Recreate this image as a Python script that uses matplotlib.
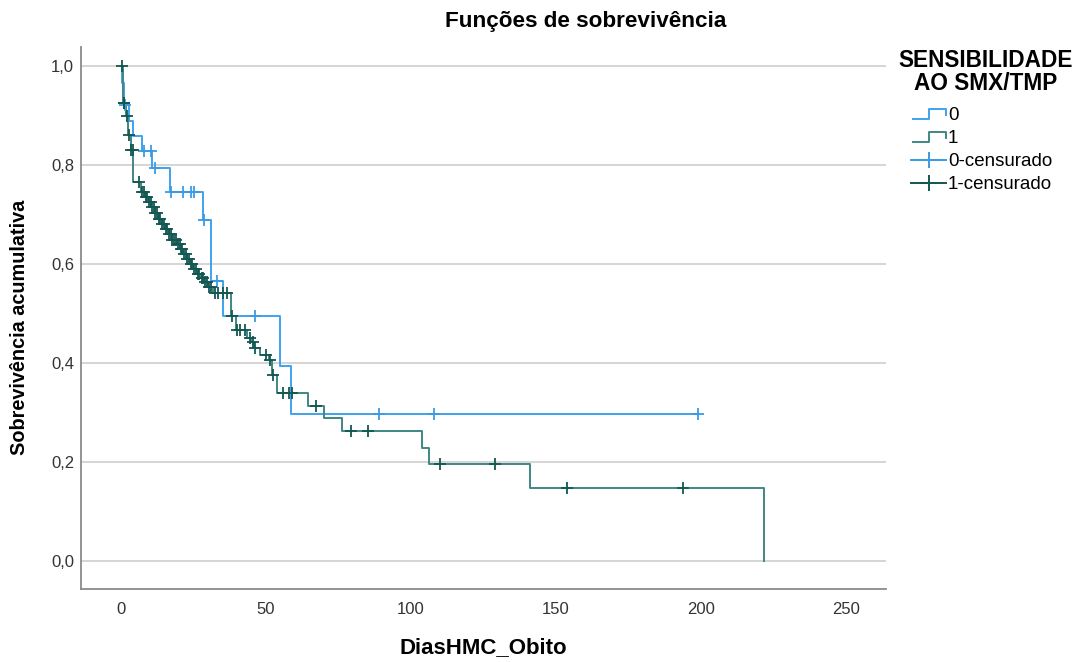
import numpy as np
import matplotlib
matplotlib.use("Agg")
import matplotlib.pyplot as plt
from matplotlib.lines import Line2D
from matplotlib.legend_handler import HandlerBase

plt.rcParams['font.family'] = ['Liberation Sans', 'DejaVu Sans']

# ---------------- data ----------------
title = "Funções de sobrevivência"
x_label = "DiasHMC_Obito"
y_label = "Sobrevivência acumulativa"
legend_title = "SENSIBILIDADE\nAO SMX/TMP"
labels = ["0", "1", "0-censurado", "1-censurado"]

x_ticks = [0, 50, 100, 150, 200, 250]
y_ticks = [0.0, 0.2, 0.4, 0.6, 0.8, 1.0]
y_tick_labels = ["0,0", "0,2", "0,4", "0,6", "0,8", "1,0"]

# group 0 step function (time of change, survival after change)
g0_t = [0, 0.5, 0.9, 2.6, 4.1, 7.1, 10.8, 17.0, 28.2, 30.9, 35.3, 55.0, 58.8, 199.0]
g0_s = [1.0, 0.965, 0.92, 0.888, 0.859, 0.827, 0.794, 0.746, 0.689, 0.566, 0.494, 0.394, 0.296, 0.296]
g0_cens = [1.3, 7.8, 10.4, 11.7, 17.1, 21.3, 24.0, 25.2, 28.6, 33.1, 46.2, 89.0, 108.0, 199.0]

# group 1 step function
g1_t = [0, 0.7, 1.6, 2.3, 3.4, 4.3, 7.0, 8.3, 9.5, 10.5, 11.6, 12.8, 14.0, 15.2, 16.4,
        17.5, 19.2, 20.4, 21.5, 22.7, 23.8, 25.0, 26.3, 27.5, 28.5, 30.0, 31.6, 37.8,
        38.1, 39.6, 43.5, 45.0, 45.9, 48.0, 51.0, 52.0, 53.7, 64.5, 70.0, 76.1, 104.0,
        106.2, 141.0, 221.8]
g1_s = [1.0, 0.925, 0.898, 0.861, 0.830, 0.766, 0.746, 0.735, 0.725, 0.714, 0.703,
        0.691, 0.680, 0.670, 0.660, 0.649, 0.641, 0.630, 0.619, 0.609, 0.599, 0.589,
        0.580, 0.571, 0.564, 0.553, 0.541, 0.527, 0.494, 0.466, 0.450, 0.443, 0.430,
        0.416, 0.406, 0.376, 0.339, 0.313, 0.288, 0.263, 0.228, 0.196, 0.147, 0.0]
g1_cens = [0.2, 0.9, 1.2, 1.9, 2.6, 3.6, 4.0, 6.2, 7.3, 7.8, 8.5, 9.0, 9.7, 10.2, 10.8,
           11.3, 11.9, 12.4, 13.0, 13.6, 14.2, 14.8, 15.4, 16.0, 16.6, 17.1, 17.7, 18.3,
           19.0, 19.6, 20.2, 20.7, 21.2, 21.8, 22.3, 22.9, 23.5, 24.0, 24.6, 25.2, 25.8,
           26.5, 27.0, 27.8, 28.3, 29.0, 29.6, 30.5, 31.2, 32.4, 33.5, 35.3, 36.4, 38.4,
           39.9, 41.0, 42.8, 44.5, 45.6, 46.2, 50.2, 51.4, 52.5, 56.0, 58.0, 58.9, 67.2,
           79.2, 85.1, 110.0, 129.0, 154.0, 193.9]

# ---------------- style ----------------
c0_line = '#3fa2ee'
c0_cens = '#3a9be4'
c1_line = '#3f8884'
c1_cens = '#135752'


def surv_at(tt, ss, times):
    tt = np.asarray(tt)
    ss = np.asarray(ss)
    idx = np.searchsorted(tt, np.asarray(times), side='right') - 1
    return ss[np.clip(idx, 0, len(ss) - 1)]


class HandlerStep(HandlerBase):
    def create_artists(self, legend, orig_handle, xdescent, ydescent, width, height,
                       fontsize, trans):
        x0 = -xdescent
        y0 = -ydescent
        xs = [x0 + 0.05 * width, x0 + 0.5 * width, x0 + 0.5 * width, x0 + width, x0 + width]
        ys = [y0 + 0.1 * height, y0 + 0.1 * height, y0 + 0.85 * height, y0 + 0.85 * height,
              y0 + 0.45 * height]
        ln = Line2D(xs, ys, color=orig_handle.get_color(), lw=orig_handle.get_linewidth(),
                    transform=trans)
        return [ln]


fig = plt.figure(figsize=(10.8, 6.62), dpi=100)
ax = fig.add_axes([0.075, 0.110, 0.745, 0.819])

ax.set_xlim(-13.8, 263.8)
ax.set_ylim(-0.057, 1.038)

for y in y_ticks:
    ax.axhline(y, color='#d2d2d2', lw=1.3, zorder=0)

ax.step(g0_t, g0_s, where='post', color=c0_line, lw=1.4, zorder=2)
ax.step(g1_t, g1_s, where='post', color=c1_line, lw=1.4, zorder=3)

ax.plot(g0_cens, surv_at(g0_t, g0_s, g0_cens), ls='none', marker='+', ms=9, mew=1.3,
        color=c0_cens, zorder=4)
ax.plot(g1_cens, surv_at(g1_t, g1_s, g1_cens), ls='none', marker='+', ms=9, mew=1.3,
        color=c1_cens, zorder=5)

for side in ['top', 'right']:
    ax.spines[side].set_visible(False)
for side in ['left', 'bottom']:
    ax.spines[side].set_color('#8a8a8a')
    ax.spines[side].set_linewidth(1.3)

ax.set_xticks(x_ticks)
ax.set_xticklabels([str(v) for v in x_ticks])
ax.set_yticks(y_ticks)
ax.set_yticklabels(y_tick_labels)
ax.tick_params(axis='both', length=0, labelsize=12, labelcolor='#333333')
ax.tick_params(axis='x', pad=9)
ax.tick_params(axis='y', pad=5)

ax.set_xlabel(x_label, fontsize=16, fontweight='bold', labelpad=15)
ax.set_ylabel(y_label, fontsize=14.3, fontweight='bold')
ax.yaxis.set_label_coords(-0.0646, 0.483)
fig.text(0.5426, 0.967, title, fontsize=16.2, fontweight='bold', ha='center', va='center')

fig.text(0.9125, 1 - 72.0 / 662, legend_title, fontsize=16.3, fontweight='bold',
         ha='center', va='center', multialignment='center', linespacing=1.0)

handles = [Line2D([], [], color=c0_line, lw=1.4),
           Line2D([], [], color=c1_line, lw=1.4),
           Line2D([], [], color=c0_cens, lw=1.4, marker='+', ms=12, mew=1.4),
           Line2D([], [], color=c1_cens, lw=1.4, marker='+', ms=12, mew=1.4)]
leg = fig.legend(handles, labels, loc='upper left', bbox_to_anchor=(0.835, 1 - 98.0 / 662),
                 frameon=False, fontsize=13.5, borderpad=0.0,
                 handlelength=1.87, handletextpad=0.1, labelspacing=0.31, numpoints=1,
                 handler_map={handles[0]: HandlerStep(), handles[1]: HandlerStep()})

fig.savefig('out.png', dpi=100)
